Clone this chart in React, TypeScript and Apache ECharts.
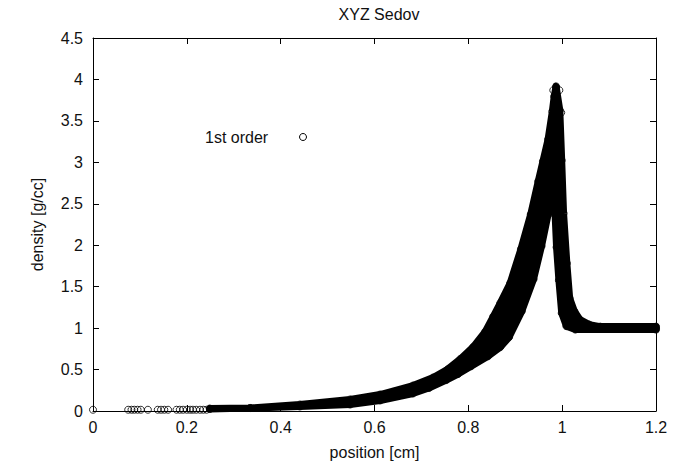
import React, { useEffect, useRef } from "react";
import * as echarts from "echarts";

// Upper / outer boundary of the dense band of points (marker centres), left to right
const bandUpper: [number, number][] = [
  [0.249, 0.024], [0.335, 0.036], [0.441, 0.078], [0.548, 0.139], [0.612, 0.199],
  [0.682, 0.307], [0.725, 0.404], [0.755, 0.5], [0.783, 0.627], [0.81, 0.771],
  [0.836, 0.958], [0.853, 1.139], [0.868, 1.301], [0.889, 1.542], [0.912, 1.952],
  [0.933, 2.373], [0.949, 2.771], [0.959, 3.012], [0.97, 3.277], [0.979, 3.614],
  [0.983, 3.795], [0.987, 3.916], [0.995, 3.627], [0.999, 3.024], [1.003, 2.386],
  [1.01, 1.783], [1.016, 1.361], [1.026, 1.205], [1.038, 1.102], [1.058, 1.042],
  [1.081, 1.018], [1.2, 1.018],
];

// Lower / inner boundary of the band (marker centres), right to left
const bandLower: [number, number][] = [
  [1.2, 0.982], [1.028, 0.982], [1.009, 1.024], [0.999, 1.181], [0.993, 1.578],
  [0.988, 1.976], [0.985, 2.361], [0.979, 2.542], [0.971, 2.398], [0.956, 1.988],
  [0.939, 1.59], [0.914, 1.205], [0.887, 0.892], [0.868, 0.771], [0.842, 0.66],
  [0.806, 0.54], [0.778, 0.445], [0.753, 0.373], [0.716, 0.277], [0.682, 0.211],
  [0.612, 0.127], [0.548, 0.078], [0.441, 0.054], [0.335, 0.036], [0.249, 0.03],
];

// Sparse points near the centre
const lowPoints: [number, number][] = [
  [0, 0.015], [0.075, 0.015], [0.082, 0.015], [0.088, 0.015], [0.095, 0.015],
  [0.102, 0.015], [0.117, 0.015], [0.138, 0.015], [0.145, 0.015], [0.152, 0.015],
  [0.16, 0.015], [0.178, 0.015], [0.185, 0.015], [0.192, 0.015], [0.2, 0.015],
  [0.207, 0.015], [0.213, 0.015], [0.22, 0.015], [0.228, 0.015], [0.235, 0.015],
  [0.242, 0.015],
];

// Individual points visible around the peak
const peakPoints: [number, number][] = [
  [0.987, 3.9], [0.981, 3.87], [0.994, 3.87], [0.998, 3.6], [1.2, 1.0],
];

const FONT = "'Liberation Sans', Arial, Helvetica, sans-serif";
const TXT = "#111";
const FS = 16;

export default function App() {
  const ref = useRef<HTMLDivElement>(null);
  useEffect(() => {
    const chart = echarts.init(ref.current!, null, { renderer: "svg" });
    const polygon = [...bandUpper, ...bandLower];
    const axisLine = { show: true, onZero: false, lineStyle: { color: "#000", width: 1 } };
    const tick = { show: true, inside: true, length: 6, lineStyle: { color: "#000", width: 1 } };
    const label = { color: TXT, fontSize: FS, fontFamily: FONT };
    chart.setOption({
      animation: false,
      backgroundColor: "#fff",
      title: {
        text: "XYZ Sedov",
        left: 374,
        top: 1,
        textAlign: "center",
        textStyle: { color: TXT, fontSize: FS, fontWeight: "normal", fontFamily: FONT },
      },
      grid: {
        left: 93, right: 24, top: 38, bottom: 52,
        containLabel: false, outerBoundsMode: "none",
      },
      xAxis: [
        {
          type: "value", min: 0, max: 1.2, interval: 0.2, position: "bottom",
          axisLine, axisTick: tick, splitLine: { show: false },
          axisLabel: { ...label, margin: 8 },
          name: "position [cm]", nameLocation: "middle", nameGap: 33,
          nameTextStyle: { ...label },
        },
        {
          type: "value", min: 0, max: 1.2, interval: 0.2, position: "top",
          axisLine, axisTick: tick, splitLine: { show: false }, axisLabel: { show: false },
        },
      ],
      yAxis: [
        {
          type: "value", min: 0, max: 4.5, interval: 0.5, position: "left",
          axisLine, axisTick: tick, splitLine: { show: false },
          axisLabel: { ...label, margin: 10 },
          name: "density [g/cc]", nameLocation: "middle", nameGap: 48,
          nameTextStyle: { ...label },
        },
        {
          type: "value", min: 0, max: 4.5, interval: 0.5, position: "right",
          axisLine, axisTick: tick, splitLine: { show: false }, axisLabel: { show: false },
        },
      ],
      graphic: [
        {
          type: "text", left: 205, top: 129,
          style: { text: "1st order", fill: TXT, font: `${FS}px ${FONT}` },
        },
        {
          type: "circle", shape: { cx: 303, cy: 137, r: 3.5 },
          style: { fill: "none", stroke: "#000", lineWidth: 1 },
        },
      ],
      series: [
        {
          type: "custom",
          name: "band",
          xAxisIndex: 0,
          yAxisIndex: 0,
          silent: true,
          z: 1,
          data: [[0, 0]],
          renderItem: (params: any, api: any) => ({
            type: "polygon",
            shape: { points: polygon.map((p) => api.coord(p)) },
            style: { fill: "#000", stroke: "#000", lineWidth: 7, lineJoin: "round" },
          }),
        },
        {
          type: "scatter",
          name: "1st order",
          xAxisIndex: 0,
          yAxisIndex: 0,
          z: 2,
          symbol: "circle",
          symbolSize: 7,
          itemStyle: { color: "rgba(0,0,0,0)", borderColor: "#000", borderWidth: 1 },
          data: [...lowPoints, ...bandUpper, ...bandLower, ...peakPoints],
        },
      ],
    });
    return () => chart.dispose();
  }, []);
  return (
    <div
      ref={ref}
      style={{ position: "absolute", left: 0, top: 0, width: 680, height: 463 }}
    />
  );
}
